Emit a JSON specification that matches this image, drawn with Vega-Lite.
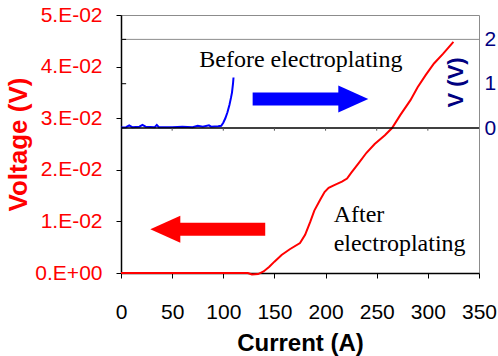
{
  "$schema": "https://vega.github.io/schema/vega-lite/v6.json",
  "width": 358,
  "height": 258,
  "autosize": {"type": "none"},
  "padding": {"left": 121, "top": 15, "right": 19, "bottom": 83},
  "config": {
    "view": {"stroke": "#8c8c8c", "strokeWidth": 1},
    "font": "Liberation Sans",
    "axisX": {
      "values": [0, 50, 100, 150, 200, 250, 300, 350],
      "titleFontSize": 24, "titleFontWeight": "bold", "titleColor": "#000000",
      "titlePadding": 9, "labelFontSize": 21, "labelColor": "#000000", "labelPadding": 23,
      "tickSize": 5, "tickColor": "#000000", "domainColor": "#000000", "domainWidth": 1.5, "grid": false,
      "labelFlush": false, "labelOverlap": false
    }
  },
  "datasets": {
    "red": [
      {"current": 0, "voltage": 0}, {"current": 50, "voltage": 0}, {"current": 100, "voltage": 0},
      {"current": 124, "voltage": 0}, {"current": 128, "voltage": -0.0003}, {"current": 134, "voltage": -0.0002},
      {"current": 139.4, "voltage": 0.0003}, {"current": 145, "voltage": 0.0012}, {"current": 150, "voltage": 0.0022},
      {"current": 157, "voltage": 0.0035}, {"current": 165, "voltage": 0.0046}, {"current": 175, "voltage": 0.0058},
      {"current": 180, "voltage": 0.0074}, {"current": 185, "voltage": 0.0099}, {"current": 189, "voltage": 0.0121},
      {"current": 195, "voltage": 0.0143}, {"current": 199, "voltage": 0.0157}, {"current": 203, "voltage": 0.0165},
      {"current": 208, "voltage": 0.0170}, {"current": 216, "voltage": 0.0177}, {"current": 221, "voltage": 0.0183},
      {"current": 225, "voltage": 0.0194}, {"current": 232, "voltage": 0.0212}, {"current": 240, "voltage": 0.0233},
      {"current": 248, "voltage": 0.0250}, {"current": 258, "voltage": 0.0267}, {"current": 265, "voltage": 0.0281},
      {"current": 273, "voltage": 0.0306}, {"current": 283, "voltage": 0.0335}, {"current": 290, "voltage": 0.0360},
      {"current": 298, "voltage": 0.0384}, {"current": 306, "voltage": 0.0406}, {"current": 315, "voltage": 0.0425},
      {"current": 325, "voltage": 0.0448}
    ],
    "blue": [
      {"current": 0, "v": 0.01}, {"current": 5, "v": 0.02}, {"current": 8, "v": 0.06}, {"current": 11, "v": 0.02},
      {"current": 18, "v": 0.03}, {"current": 21, "v": 0.07}, {"current": 24, "v": 0.03}, {"current": 33, "v": 0.02},
      {"current": 35, "v": 0.07}, {"current": 37, "v": 0.02}, {"current": 50, "v": 0.02}, {"current": 60, "v": 0.03},
      {"current": 70, "v": 0.02}, {"current": 75, "v": 0.05}, {"current": 80, "v": 0.03}, {"current": 86, "v": 0.06},
      {"current": 88, "v": 0.03}, {"current": 95, "v": 0.04}, {"current": 98, "v": 0.05}, {"current": 100, "v": 0.12},
      {"current": 102, "v": 0.22}, {"current": 104, "v": 0.35}, {"current": 106, "v": 0.52}, {"current": 107.5, "v": 0.68},
      {"current": 108.5, "v": 0.8}, {"current": 109.5, "v": 1.0}, {"current": 110, "v": 1.14}
    ],
    "insetLines": [{"level": "bottom", "v": 0}, {"level": "top", "v": 2}],
    "insetTicksX": [
      {"current": 50, "v": 0, "v2": -0.06}, {"current": 100, "v": 0, "v2": -0.06}, {"current": 150, "v": 0, "v2": -0.06},
      {"current": 200, "v": 0, "v2": -0.06}, {"current": 250, "v": 0, "v2": -0.06}, {"current": 300, "v": 0, "v2": -0.06}
    ],
    "insetTicksY": [{"current": 0, "current2": 5, "v": 1}, {"current": 0, "current2": 5, "v": 2}],
    "shafts": [
      {"series": "after", "from": 56, "to": 141, "voltage": 0.00847},
      {"series": "before", "from": 128.7, "to": 214, "voltage": 0.0337}
    ],
    "headsLeft": [{"series": "after", "current": 43.3, "voltage": 0.00847}],
    "headsRight": [{"series": "before", "current": 227.1, "voltage": 0.0337}],
    "notes": [
      {"label": "Before electroplating", "current": 76.5, "voltage": 0.0400},
      {"label": "After", "current": 207.9, "voltage": 0.00994},
      {"label": "electroplating", "current": 207.9, "voltage": 0.00426}
    ],
    "vtitle": [{"label": "V (V)", "current": 327.6, "v": 1.03}]
  },
  "layer": [
    {
      "data": {"name": "red"},
      "mark": {"type": "line", "color": "#FF0000", "strokeWidth": 2},
      "encoding": {
        "x": {
          "field": "current", "type": "quantitative",
          "scale": {"domain": [0, 350], "nice": false, "zero": false},
          "axis": {"title": "Current (A)"}
        },
        "y": {
          "field": "voltage", "type": "quantitative",
          "scale": {"domain": [0, 0.05], "nice": false, "zero": false},
          "axis": {
            "values": [0, 0.01, 0.02, 0.03, 0.04, 0.05],
            "labelExpr": "datum.value == 0 ? '0.E+00' : format(datum.value*100, '.0f') + '.E-02'",
            "title": "Voltage (V)", "titleFontSize": 26, "titleFontWeight": "bold", "titleColor": "#FF0000",
            "titlePadding": 3, "labelFontSize": 21, "labelColor": "#FF0000", "labelPadding": 14,
            "tickSize": 5, "tickColor": "#000000", "domainColor": "#000000", "domainWidth": 1.5, "grid": false,
            "labelFlush": false, "labelOverlap": false
          }
        }
      }
    },
    {
      "data": {"name": "blue"},
      "mark": {"type": "line", "color": "#0000FF", "strokeWidth": 2},
      "encoding": {
        "x": {"field": "current", "type": "quantitative", "scale": {"domain": [0, 350], "nice": false, "zero": false}, "axis": {"title": "Current (A)"}},
        "y": {
          "field": "v", "type": "quantitative",
          "scale": {"domain": [-3.27, 2.55], "nice": false, "zero": false},
          "axis": {
            "orient": "right", "values": [0, 1, 2], "title": null, "labelFontSize": 21, "labelColor": "#000080",
            "labelPadding": 5, "ticks": false, "domain": false, "grid": false, "labelFlush": false, "labelOverlap": false
          }
        }
      }
    },
    {
      "data": {"name": "insetLines"},
      "mark": {"type": "rule"},
      "encoding": {
        "y": {"field": "v", "type": "quantitative", "scale": {"domain": [-3.27, 2.55], "nice": false, "zero": false}, "axis": null},
        "color": {"field": "level", "type": "nominal", "scale": {"domain": ["bottom", "top"], "range": ["#000000", "#8c8c8c"]}, "legend": null},
        "strokeWidth": {"field": "level", "type": "nominal", "scale": {"domain": ["bottom", "top"], "range": [1.5, 1]}, "legend": null}
      }
    },
    {
      "data": {"name": "insetTicksX"},
      "mark": {"type": "rule", "color": "#555555", "strokeWidth": 1},
      "encoding": {
        "x": {"field": "current", "type": "quantitative", "scale": {"domain": [0, 350], "nice": false, "zero": false}, "axis": {"title": "Current (A)"}},
        "y": {"field": "v", "type": "quantitative", "scale": {"domain": [-3.27, 2.55], "nice": false, "zero": false}, "axis": null},
        "y2": {"field": "v2"}
      }
    },
    {
      "data": {"name": "insetTicksY"},
      "mark": {"type": "rule", "color": "#000000", "strokeWidth": 1},
      "encoding": {
        "x": {"field": "current", "type": "quantitative", "scale": {"domain": [0, 350], "nice": false, "zero": false}, "axis": {"title": "Current (A)"}},
        "x2": {"field": "current2"},
        "y": {"field": "v", "type": "quantitative", "scale": {"domain": [-3.27, 2.55], "nice": false, "zero": false}, "axis": null}
      }
    },
    {
      "data": {"name": "shafts"},
      "mark": {"type": "rule", "strokeWidth": 13, "strokeCap": "butt"},
      "encoding": {
        "x": {"field": "from", "type": "quantitative", "scale": {"domain": [0, 350], "nice": false, "zero": false}, "axis": {"title": "Current (A)"}},
        "x2": {"field": "to"},
        "y": {"field": "voltage", "type": "quantitative", "scale": {"domain": [0, 0.05], "nice": false, "zero": false}, "axis": null},
        "color": {"field": "series", "type": "nominal", "scale": {"domain": ["after", "before"], "range": ["#FF0000", "#0000FF"]}, "legend": null}
      }
    },
    {
      "data": {"name": "headsLeft"},
      "mark": {"type": "point", "shape": "M -1 0 L 1 -0.9 L 1 0.9 Z", "size": 900, "filled": true, "opacity": 1, "strokeWidth": 0},
      "encoding": {
        "x": {"field": "current", "type": "quantitative", "scale": {"domain": [0, 350], "nice": false, "zero": false}, "axis": {"title": "Current (A)"}},
        "y": {"field": "voltage", "type": "quantitative", "scale": {"domain": [0, 0.05], "nice": false, "zero": false}, "axis": null},
        "color": {"field": "series", "type": "nominal", "scale": {"domain": ["after", "before"], "range": ["#FF0000", "#0000FF"]}, "legend": null}
      }
    },
    {
      "data": {"name": "headsRight"},
      "mark": {"type": "point", "shape": "M 1 0 L -1 -0.9 L -1 0.9 Z", "size": 900, "filled": true, "opacity": 1, "strokeWidth": 0},
      "encoding": {
        "x": {"field": "current", "type": "quantitative", "scale": {"domain": [0, 350], "nice": false, "zero": false}, "axis": {"title": "Current (A)"}},
        "y": {"field": "voltage", "type": "quantitative", "scale": {"domain": [0, 0.05], "nice": false, "zero": false}, "axis": null},
        "color": {"field": "series", "type": "nominal", "scale": {"domain": ["after", "before"], "range": ["#FF0000", "#0000FF"]}, "legend": null}
      }
    },
    {
      "data": {"name": "notes"},
      "mark": {"type": "text", "font": "Liberation Serif", "fontSize": 24, "align": "left", "baseline": "alphabetic", "color": "#000000"},
      "encoding": {
        "x": {"field": "current", "type": "quantitative", "scale": {"domain": [0, 350], "nice": false, "zero": false}, "axis": {"title": "Current (A)"}},
        "y": {"field": "voltage", "type": "quantitative", "scale": {"domain": [0, 0.05], "nice": false, "zero": false}, "axis": null},
        "text": {"field": "label"}
      }
    },
    {
      "data": {"name": "vtitle"},
      "mark": {"type": "text", "font": "Liberation Sans", "fontSize": 22, "fontWeight": "bold", "angle": 270, "align": "center", "baseline": "middle", "color": "#000080"},
      "encoding": {
        "x": {"field": "current", "type": "quantitative", "scale": {"domain": [0, 350], "nice": false, "zero": false}, "axis": {"title": "Current (A)"}},
        "y": {"field": "v", "type": "quantitative", "scale": {"domain": [-3.27, 2.55], "nice": false, "zero": false}, "axis": null},
        "text": {"field": "label"}
      }
    }
  ],
  "resolve": {"scale": {"y": "independent", "color": "independent", "strokeWidth": "independent"}}
}
